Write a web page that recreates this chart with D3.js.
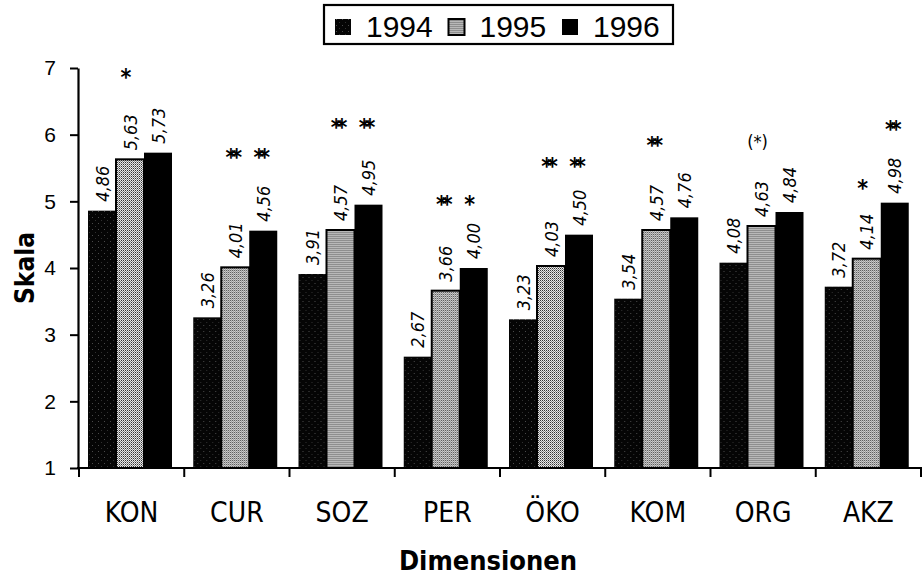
<!DOCTYPE html>
<html>
<head>
<meta charset="utf-8">
<script src="https://cdn.jsdelivr.net/npm/d3@7"></script>
<style>
  body { margin: 0; background: #fff; }
</style>
</head>
<body>
<svg id="chart" width="923" height="579"></svg>
<script>
const categories = ["KON", "CUR", "SOZ", "PER", "ÖKO", "KOM", "ORG", "AKZ"];
const years = ["1994", "1995", "1996"];
const values1994 = [4.86, 3.26, 3.91, 2.67, 3.23, 3.54, 4.08, 3.72];
const values1995 = [5.63, 4.01, 4.57, 3.66, 4.03, 4.57, 4.63, 4.14];
const values1996 = [5.73, 4.56, 4.95, 4.00, 4.50, 4.76, 4.84, 4.98];
const yTicks = [1, 2, 3, 4, 5, 6, 7];

// significance marks above the bars (level = height on the scale)
const markCategory = ["KON", "CUR", "CUR", "SOZ", "SOZ", "PER", "PER", "ÖKO", "ÖKO", "KOM", "ORG", "AKZ", "AKZ"];
const markYear     = ["1995", "1995", "1996", "1995", "1996", "1995", "1996", "1995", "1996", "1995", "1995", "1995", "1996"];
const markText     = ["*", "**", "**", "**", "**", "**", "*", "**", "**", "**", "(*)", "*", "**"];
const markLevel    = [6.93, 5.73, 5.73, 6.18, 6.18, 5.02, 5.02, 5.59, 5.59, 5.9, 5.9, 5.26, 6.15];

const seriesValues = { "1994": values1994, "1995": values1995, "1996": values1996 };

const svg = d3.select("#chart");
const narrow = "'DejaVu Sans Condensed', 'DejaVu Sans', sans-serif";

// fill patterns
const defs = svg.append("defs");
const p94 = defs.append("pattern").attr("id", "p1994")
  .attr("patternUnits", "userSpaceOnUse").attr("width", 6).attr("height", 6);
p94.append("rect").attr("width", 6).attr("height", 6).attr("fill", "#050505");
p94.append("rect").attr("x", 1).attr("y", 1).attr("width", 1).attr("height", 1).attr("fill", "#4a4a4a");
p94.append("rect").attr("x", 4).attr("y", 4).attr("width", 1).attr("height", 1).attr("fill", "#303030");

const p95 = defs.append("pattern").attr("id", "p1995")
  .attr("patternUnits", "userSpaceOnUse").attr("width", 2).attr("height", 2);
p95.append("rect").attr("width", 2).attr("height", 2).attr("fill", "#e8e8e8");
p95.append("rect").attr("width", 1).attr("height", 1).attr("fill", "#333");
p95.append("rect").attr("x", 1).attr("y", 1).attr("width", 1).attr("height", 1).attr("fill", "#888");

const fills = { "1994": "url(#p1994)", "1995": "url(#p1995)", "1996": "#000" };

const x = d3.scaleBand().domain(categories).range([79, 921]);
const xInner = d3.scaleBand().domain(years).range([9, 93]);
const y = d3.scaleLinear().domain([1, 7]).range([468, 68]);

// bars
const groups = svg.append("g").selectAll("g")
  .data(categories)
  .join("g")
  .attr("transform", d => `translate(${x(d)},0)`);

groups.selectAll("rect")
  .data((c, i) => years.map(yr => ({ year: yr, value: seriesValues[yr][i] })))
  .join("rect")
  .attr("x", d => xInner(d.year))
  .attr("y", d => y(d.value))
  .attr("width", xInner.bandwidth())
  .attr("height", d => y(1) - y(d.value))
  .attr("fill", d => fills[d.year])
  .attr("stroke", d => d.year === "1995" ? "#000" : "none")
  .attr("stroke-width", 2);

// value labels
const comma = d3.format(".2f");
groups.selectAll("text.val")
  .data((c, i) => years.map(yr => ({ year: yr, value: seriesValues[yr][i] })))
  .join("text")
  .attr("class", "val")
  .attr("transform", d => `translate(${xInner(d.year) + xInner.bandwidth() / 2},${y(d.value) - 9}) rotate(-90)`)
  .attr("text-anchor", "start")
  .attr("dominant-baseline", "central")
  .style("font-family", narrow)
  .style("font-style", "italic")
  .style("font-size", "18px")
  .text(d => comma(d.value).replace(".", ","));

// significance marks
svg.append("g").selectAll("text")
  .data(markText.map((t, i) => ({ text: t, cat: markCategory[i], year: markYear[i], level: markLevel[i] })))
  .join("text")
  .attr("x", d => x(d.cat) + xInner(d.year) + xInner.bandwidth() / 2 - 4)
  .attr("y", d => y(d.level) + (d.text === "(*)" ? 0 : 4))
  .attr("text-anchor", "middle")
  .attr("dominant-baseline", "central")
  .style("font-family", narrow)
  .style("font-size", d => d.text === "(*)" ? "18px" : "23px")
  .style("font-weight", d => d.text === "(*)" ? "normal" : "bold")
  .style("letter-spacing", d => d.text === "**" ? "-5px" : "0px")
  .text(d => d.text);

// y axis
const yAxis = svg.append("g")
  .attr("transform", "translate(78,0)")
  .call(d3.axisLeft(y).tickValues(yTicks).tickSize(8).tickSizeOuter(0).tickPadding(14).tickFormat(d3.format("d")));
yAxis.select(".domain").attr("stroke-width", 2.2);
yAxis.selectAll(".tick line").attr("stroke-width", 2);
yAxis.selectAll(".tick text")
  .style("font-family", "'Liberation Sans', Arial, sans-serif")
  .style("font-size", "21px")
  .attr("fill", "#000");

// x axis
const xAxis = svg.append("g")
  .attr("transform", "translate(0,468)")
  .call(d3.axisBottom(x).tickSize(0).tickPadding(34));
xAxis.select(".domain").remove();
xAxis.selectAll(".tick text")
  .style("font-family", narrow)
  .style("font-size", "28px")
  .attr("fill", "#000");

const boundaries = categories.map(c => x(c)).concat([x.range()[1]]);
xAxis.append("line")
  .attr("x1", 77).attr("x2", x.range()[1] + 1)
  .attr("y1", 0).attr("y2", 0)
  .attr("stroke", "#000").attr("stroke-width", 2.2);
xAxis.selectAll("line.bt")
  .data(boundaries)
  .join("line")
  .attr("class", "bt")
  .attr("x1", d => d).attr("x2", d => d)
  .attr("y1", 0).attr("y2", 9)
  .attr("stroke", "#000").attr("stroke-width", 2);

// axis titles
svg.append("text")
  .attr("transform", "translate(25,268) rotate(-90)")
  .attr("text-anchor", "middle")
  .attr("dominant-baseline", "central")
  .style("font-family", narrow)
  .style("font-weight", "bold")
  .style("font-size", "26px")
  .text("Skala");

svg.append("text")
  .attr("x", 488)
  .attr("y", 570)
  .attr("text-anchor", "middle")
  .style("font-family", narrow)
  .style("font-weight", "bold")
  .style("font-size", "27px")
  .text("Dimensionen");

// legend
const legend = svg.append("g");
legend.append("rect")
  .attr("x", 324).attr("y", 5).attr("width", 349).attr("height", 39)
  .attr("fill", "#fff").attr("stroke", "#000").attr("stroke-width", 2.2);
const items = legend.selectAll("g.item")
  .data(years)
  .join("g")
  .attr("class", "item")
  .attr("transform", (d, i) => `translate(${335 + i * 113.5},0)`);
items.append("rect")
  .attr("x", 0).attr("y", 19).attr("width", 16).attr("height", 16)
  .attr("fill", d => fills[d])
  .attr("stroke", "#000").attr("stroke-width", d => d === "1995" ? 2 : 0);
items.append("text")
  .attr("x", 31).attr("y", 37)
  .style("font-family", "'Liberation Sans', Arial, sans-serif")
  .style("font-size", "30px")
  .text(d => d);
</script>
</body>
</html>
